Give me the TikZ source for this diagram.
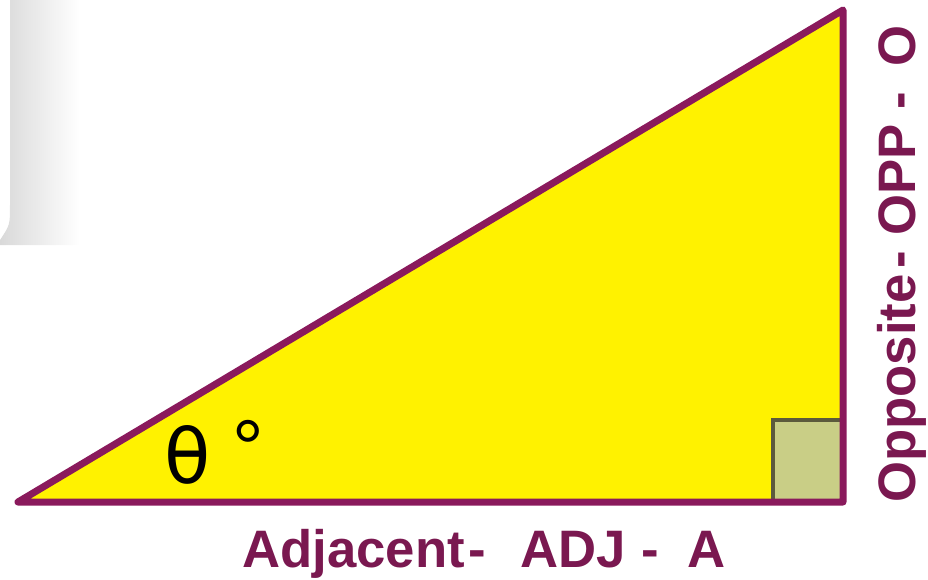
\documentclass[tikz,border=0pt]{standalone}
\usepackage{fontspec}
\setmainfont{Liberation Sans}
\newfontfamily\greekfont{DejaVu Sans}
\usepackage{xcolor}
\definecolor{edgecol}{HTML}{8A1A5C}
\definecolor{labcol}{HTML}{7A1850}
\definecolor{sqfill}{HTML}{C9CE86}
\definecolor{sqedge}{HTML}{5C5A3C}
\usetikzlibrary{positioning}
\tikzset{
  sidelabel/.style={text=labcol,font=\fontsize{30}{32}\selectfont\bfseries,inner sep=0pt,anchor=base west},
}
\begin{document}
\begin{tikzpicture}[x=0.02cm,y=-0.02cm]
  \useasboundingbox (0,0) rectangle (928,579);
  % faint shadow at the left edge
  \shade[left color=black!15,right color=white]
    (10,0) -- (80,0) -- (80,245) -- (0,245) -- (0,240) .. controls (10,225) .. (10,205) -- cycle;
  \coordinate (A) at (18,502);
  \coordinate (B) at (843,502);
  \coordinate (C) at (843,10);
  \fill[yellow] (A) -- (B) -- (C) -- cycle;
  \coordinate (Q) at (773,420);
  \filldraw[fill=sqfill,draw=sqedge,line width=2.5pt] (Q) rectangle (B);
  \draw[edgecol,line width=4pt,line join=round] (A) -- (B) -- (C) -- cycle;
  \node[inner sep=0pt,anchor=base,font=\greekfont\fontsize{43}{46}\selectfont] (theta) at (188,483) {θ};
  \node[inner sep=0pt,anchor=base,font=\fontsize{45}{48}\selectfont] (deg) at (248,475) {°};
  \node[sidelabel] (adj) at (242,567)
    {Adjacent\kern0.08cm-\kern0.68cmADJ\kern0.32cm-\kern0.56cmA};
  \node[sidelabel,rotate=90] (opp) at (915,503)
    {Opposite\kern0.12cm-\kern0.3cmOPP\kern0.3cm-\kern0.5cmO};
\end{tikzpicture}
\end{document}
